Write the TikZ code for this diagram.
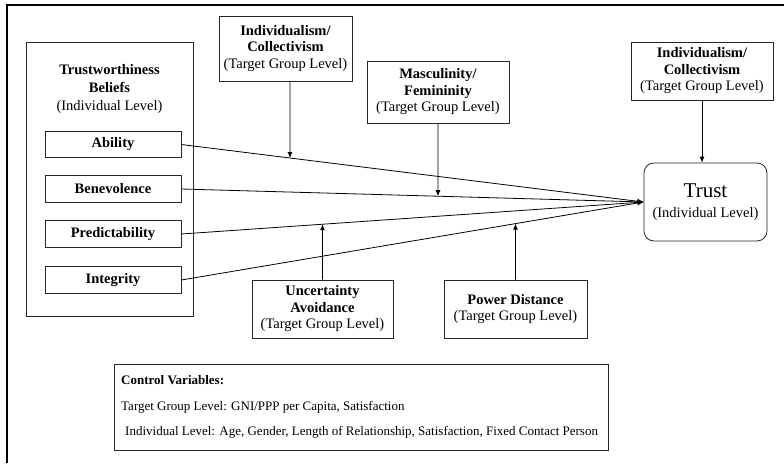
\documentclass[tikz,border=0pt]{standalone}
\usepackage{fontspec}
\setmainfont{Liberation Serif}
\usetikzlibrary{arrows.meta,intersections}

\begin{document}
\begin{tikzpicture}[x=1pt,y=-1pt,
  box/.style={draw=black!85,line width=0.8pt,inner sep=0pt,align=center,
    font=\fontsize{14.5}{16.5}\selectfont},
  item/.style={box,font=\fontsize{14.5}{16.5}\selectfont\bfseries,
    minimum width=136pt,minimum height=26.5pt},
  link/.style={line width=0.8pt,-{Latex[length=6pt,width=5pt]}},
  ctrltext/.style={anchor=base west,inner sep=0pt,font=\fontsize{13}{15}\selectfont}]
\useasboundingbox (0,0) rectangle (784,463);

% outer frame
\draw[line width=1.3pt] (7,463) -- (7,5) -- (784,5);

% trustworthiness beliefs
\node[box,minimum width=167pt,minimum height=274pt] (beliefs) at (109.5,179) {};
\node[align=center,inner sep=0pt,font=\fontsize{14.5}{18}\selectfont] (beliefstitle) at (109.5,89)
  {\textbf{Trustworthiness}\\\textbf{Beliefs}\\(Individual Level)};
\node[item] (ability) at (113,144.5) {Ability};
\node[item] (benevolence) at (113,189) {Benevolence};
\node[item] (predictability) at (113,234) {Predictability};
\node[item] (integrity) at (113,280) {Integrity};

% cultural moderators
\node[box,minimum width=133pt,minimum height=65pt] (ic1) at (285.5,48.5)
  {\textbf{Individualism/}\\\textbf{Collectivism}\\(Target Group Level)};
\node[box,minimum width=142pt,minimum height=62pt] (mf) at (438,92)
  {\textbf{Masculinity/}\\\textbf{Femininity}\\(Target Group Level)};
\node[box,minimum width=142pt,minimum height=58pt] (ic2) at (702,71)
  {\textbf{Individualism/}\\\textbf{Collectivism}\\(Target Group Level)};
\node[box,minimum width=141pt,minimum height=58pt] (ua) at (322.5,309)
  {\textbf{Uncertainty}\\\textbf{Avoidance}\\(Target Group Level)};
\node[box,minimum width=143pt,minimum height=58pt] (pd) at (515.5,309)
  {\textbf{Power Distance}\\(Target Group Level)};

% outcome
\node[box,rounded corners=10pt,minimum width=123pt,minimum height=78pt,
  font=\fontsize{14.5}{20}\selectfont] (trust) at (705.5,202)
  {{\fontsize{21}{22}\selectfont Trust}\\(Individual Level)};

% control variables
\node[box,minimum width=494pt,minimum height=86pt] (ctrl) at (361,407) {};
\node[ctrltext,font=\fontsize{13}{15}\selectfont\bfseries] (ctrlhead) at (121,384) {Control Variables:};
\node[ctrltext] (ctrlgroup) at (121,410) {Target Group Level: GNI/PPP per Capita, Satisfaction};
\node[ctrltext] (ctrlind) at (125,435) {Individual Level: Age, Gender, Length of Relationship, Satisfaction, Fixed Contact Person};

% main effects
\draw[link,name path=pab] (ability.east) -- (trust.west);
\draw[link,name path=pbe] (benevolence.east) -- (trust.west);
\draw[link,name path=ppr] (predictability.east) -- (trust.west);
\draw[link,name path=pin] (integrity.east) -- (trust.west);

% moderating effects
\path[name path=vic] ([xshift=4.5pt]ic1.south) -- ++(0,200);
\draw[link,name intersections={of=pab and vic,name=xa}] ([xshift=4.5pt]ic1.south) -- (xa-1);
\path[name path=vmf] (mf.south) -- ++(0,200);
\draw[link,name intersections={of=pbe and vmf,name=xb}] (mf.south) -- (xb-1);
\path[name path=vua] (ua.north) -- ++(0,-200);
\draw[link,name intersections={of=ppr and vua,name=xc}] (ua.north) -- (xc-1);
\path[name path=vpd] (pd.north) -- ++(0,-200);
\draw[link,name intersections={of=pin and vpd,name=xd}] (pd.north) -- (xd-1);
\draw[link] (ic2.south) -- (ic2.south |- trust.north);
\end{tikzpicture}
\end{document}
